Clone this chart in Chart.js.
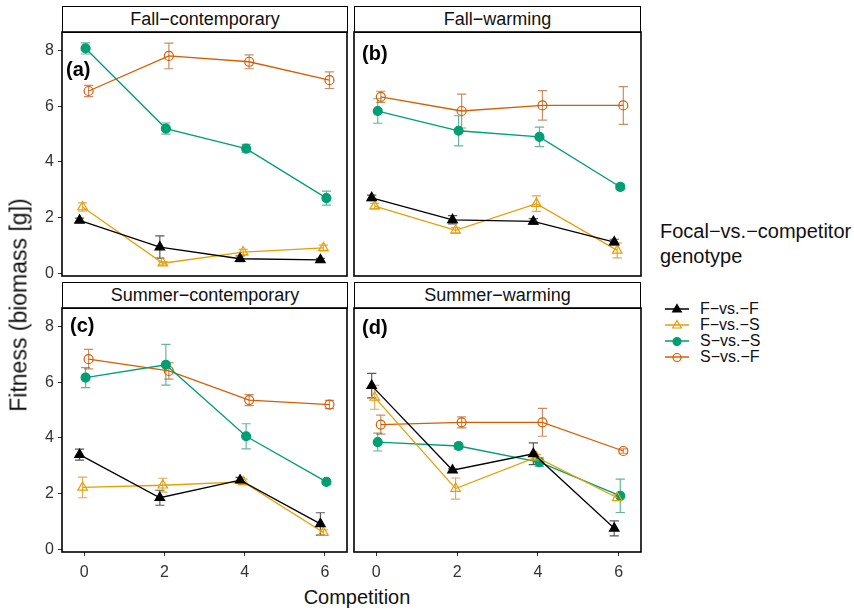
<!DOCTYPE html>
<html>
<head>
<meta charset="utf-8">
<script src="https://cdn.jsdelivr.net/npm/chart.js@4.4.1/dist/chart.umd.min.js"></script>
<style>
  body { margin: 0; background: #fff; font-family: "Liberation Sans", Arial, sans-serif; }
  #wrap { position: relative; width: 854px; height: 610px; overflow: hidden; }
  canvas { position: absolute; }
  .strip { position: absolute; box-sizing: border-box; border: 1.6px solid #000; background: #fff;
           text-align: center; font-size: 18px; line-height: 24px; color: #111; }
  .axis-title { position: absolute; font-size: 20px; color: #111; white-space: nowrap; }
  #legend-title { position: absolute; left: 660px; top: 219px; font-size: 20px; line-height: 25px; color: #111; }
  .leg-row { position: absolute; left: 664px; height: 16px; font-size: 16px; line-height: 16px; color: #111; }
  .leg-row canvas { position: absolute; left: 0; top: 1px; }
  .leg-row span { position: absolute; left: 36px; top: 0; white-space: nowrap; }
</style>
</head>
<body>
<div id="wrap">
  <div class="strip" style="left:62px;top:6px;width:286px;height:27px;">Fall−contemporary</div>
  <div class="strip" style="left:354px;top:6px;width:287px;height:27px;">Fall−warming</div>
  <div class="strip" style="left:62px;top:282px;width:286px;height:27px;">Summer−contemporary</div>
  <div class="strip" style="left:354px;top:282px;width:287px;height:27px;">Summer−warming</div>

  <canvas id="pa" width="321" height="248" style="left:28px;top:30px;"></canvas>
  <canvas id="pb" width="291" height="248" style="left:352px;top:30px;"></canvas>
  <canvas id="pc" width="321" height="276" style="left:28px;top:306px;"></canvas>
  <canvas id="pd" width="291" height="276" style="left:352px;top:306px;"></canvas>

  <div class="axis-title" style="left:357px;top:597px;transform:translate(-50%,-50%);">Competition</div>
  <div class="axis-title" style="left:19px;top:305px;font-size:23px;transform:translate(-50%,-50%) rotate(-90deg);">Fitness (biomass [g])</div>

  <div id="legend-title">Focal−vs.−competitor<br>genotype</div>
  <div id="legend"></div>
</div>

<script>
// x positions and tick labels
const competition = [0, 2, 4, 6];
const yTicks = [0, 2, 4, 6, 8];
const genotypes = ['F−vs.−F', 'F−vs.−S', 'S−vs.−S', 'S−vs.−F'];

// mean biomass per genotype (rows: F-vs-F, F-vs-S, S-vs-S, S-vs-F)
const fallContemporaryMean = [
  [1.90, 0.94, 0.52, 0.48],
  [2.38, 0.36, 0.76, 0.91],
  [8.08, 5.20, 4.48, 2.70],
  [6.55, 7.81, 7.60, 6.94]
];
const fallContemporaryErr = [
  [0.08, 0.40, 0.10, 0.05],
  [0.15, 0.06, 0.10, 0.10],
  [0.20, 0.20, 0.15, 0.25],
  [0.20, 0.46, 0.25, 0.30]
];

const fallWarmingMean = [
  [2.71, 1.92, 1.86, 1.12],
  [2.41, 1.54, 2.50, 0.82],
  [5.83, 5.12, 4.90, 3.10],
  [6.34, 5.83, 6.03, 6.03]
];
const fallWarmingErr = [
  [0.10, 0.15, 0.10, 0.10],
  [0.10, 0.10, 0.28, 0.27],
  [0.44, 0.54, 0.35, 0.10],
  [0.20, 0.61, 0.53, 0.68]
];

const summerContemporaryMean = [
  [3.40, 1.85, 2.48, 0.91],
  [2.22, 2.30, 2.42, 0.60],
  [6.17, 6.63, 4.06, 2.42],
  [6.83, 6.41, 5.36, 5.20]
];
const summerContemporaryErr = [
  [0.20, 0.27, 0.10, 0.40],
  [0.37, 0.25, 0.10, 0.10],
  [0.36, 0.73, 0.45, 0.08],
  [0.35, 0.30, 0.20, 0.15]
];

const summerWarmingMean = [
  [5.88, 2.84, 3.43, 0.75],
  [5.46, 2.18, 3.31, 1.85],
  [3.85, 3.71, 3.13, 1.92],
  [4.48, 4.56, 4.56, 3.53]
];
const summerWarmingErr = [
  [0.44, 0.05, 0.39, 0.27],
  [0.43, 0.38, 0.10, 0.10],
  [0.32, 0.10, 0.15, 0.60],
  [0.34, 0.20, 0.50, 0.08]
];

// styling
const colors = ['#000000', '#E69F00', '#009E73', '#D55E00'];
const errColors = ['rgba(0,0,0,0.65)', 'rgba(200,140,20,0.7)', 'rgba(0,130,95,0.6)', 'rgba(170,80,20,0.65)'];
const shapes = ['triangle', 'triangle', 'circle', 'circle'];
const filled = [true, false, true, false];
const radii = [5.5, 5.5, 4.5, 4.5];
const dodge = [-0.1125, -0.0375, 0.0375, 0.1125];
const capHalf = 0.115;
const FONT = '"Liberation Sans", Arial, sans-serif';

const errorBarPlugin = {
  id: 'errorBars',
  beforeDatasetsDraw(chart) {
    const { ctx, scales: { x, y } } = chart;
    ctx.save();
    ctx.lineWidth = 1.2;
    chart.data.datasets.forEach((ds, k) => {
      ctx.strokeStyle = errColors[k];
      ds.data.forEach((p, j) => {
        const e = ds.errors[j];
        const px = x.getPixelForValue(p.x);
        const xa = x.getPixelForValue(p.x - capHalf);
        const xb = x.getPixelForValue(p.x + capHalf);
        const yt = y.getPixelForValue(p.y + e);
        const yb = y.getPixelForValue(p.y - e);
        ctx.beginPath();
        ctx.moveTo(px, yt); ctx.lineTo(px, yb);
        ctx.moveTo(xa, yt); ctx.lineTo(xb, yt);
        ctx.moveTo(xa, yb); ctx.lineTo(xb, yb);
        ctx.stroke();
      });
    });
    ctx.restore();
  }
};

function framePlugin(tag, dx, dy) {
  return {
    id: 'frame',
    afterDraw(chart) {
      const { ctx, chartArea: a } = chart;
      ctx.save();
      ctx.strokeStyle = '#000';
      ctx.lineWidth = 1.6;
      ctx.strokeRect(a.left, a.top, a.right - a.left, a.bottom - a.top);
      ctx.fillStyle = '#000';
      ctx.font = 'bold 20px ' + FONT;
      ctx.textBaseline = 'middle';
      ctx.fillText(tag, a.left + dx, a.top + dy);
      ctx.restore();
    }
  };
}

function makePanel(id, means, errs, tag, dx, dy, showX, showY) {
  const datasets = genotypes.map((g, k) => ({
    label: g,
    data: competition.map((c, j) => ({ x: c + dodge[k], y: means[k][j] })),
    errors: errs[k],
    borderColor: colors[k],
    borderWidth: 1.3,
    pointStyle: shapes[k],
    pointRadius: radii[k],
    pointBorderWidth: 1.2,
    pointBorderColor: colors[k],
    pointBackgroundColor: filled[k] ? colors[k] : 'rgba(0,0,0,0)',
    tension: 0,
    fill: false
  }));
  const tickGrid = { display: true, drawOnChartArea: false, drawTicks: true, tickLength: 4, color: '#333', lineWidth: 1 };
  new Chart(document.getElementById(id), {
    type: 'line',
    data: { datasets },
    options: {
      responsive: false,
      animation: false,
      events: [],
      layout: { autoPadding: false, padding: { top: 2, right: 2, left: showY ? 0 : 2, bottom: showX ? 0 : 2 } },
      plugins: { legend: { display: false }, tooltip: { enabled: false } },
      scales: {
        x: {
          type: 'linear', min: -0.55, max: 6.55, display: showX,
          afterBuildTicks: s => { s.ticks = competition.map(v => ({ value: v })); },
          afterFit: s => { s.height = showX ? 30 : 0; s.paddingLeft = 0; s.paddingRight = 0; },
          grid: tickGrid, border: { display: false },
          ticks: { color: '#333', padding: 7, font: { size: 16, family: FONT }, maxRotation: 0 }
        },
        y: {
          type: 'linear', min: -0.1, max: 8.67, display: showY,
          afterBuildTicks: s => { s.ticks = yTicks.map(v => ({ value: v })); },
          afterFit: s => { s.width = showY ? 34 : 0; s.paddingTop = 0; s.paddingBottom = 0; },
          grid: tickGrid, border: { display: false },
          ticks: { color: '#333', padding: 4, font: { size: 16, family: FONT } }
        }
      }
    },
    plugins: [errorBarPlugin, framePlugin(tag, dx, dy)]
  });
}

makePanel('pa', fallContemporaryMean, fallContemporaryErr, '(a)', 4, 38, false, true);
makePanel('pb', fallWarmingMean, fallWarmingErr, '(b)', 8, 22, false, false);
makePanel('pc', summerContemporaryMean, summerContemporaryErr, '(c)', 8, 18, true, true);
makePanel('pd', summerWarmingMean, summerWarmingErr, '(d)', 8, 20, true, false);

// legend: key drawn with Chart.js's own point helper
const legendTop = [309, 325, 341, 357];
const legend = document.getElementById('legend');
genotypes.forEach((g, k) => {
  const row = document.createElement('div');
  row.className = 'leg-row';
  row.style.top = (legendTop[k] - 8) + 'px';
  const cv = document.createElement('canvas');
  cv.width = 26; cv.height = 14;
  const span = document.createElement('span');
  span.textContent = g;
  row.appendChild(cv); row.appendChild(span);
  legend.appendChild(row);
  const c = cv.getContext('2d');
  c.strokeStyle = colors[k];
  c.lineWidth = 1.5;
  c.beginPath(); c.moveTo(1, 7); c.lineTo(25, 7); c.stroke();
  c.fillStyle = filled[k] ? colors[k] : 'rgba(0,0,0,0)';
  c.lineWidth = 1.2;
  Chart.helpers.drawPoint(c, { pointStyle: shapes[k], radius: radii[k] - 0.5, borderWidth: 1.2, rotation: 0 }, 13, 7.5);
});
</script>
</body>
</html>
